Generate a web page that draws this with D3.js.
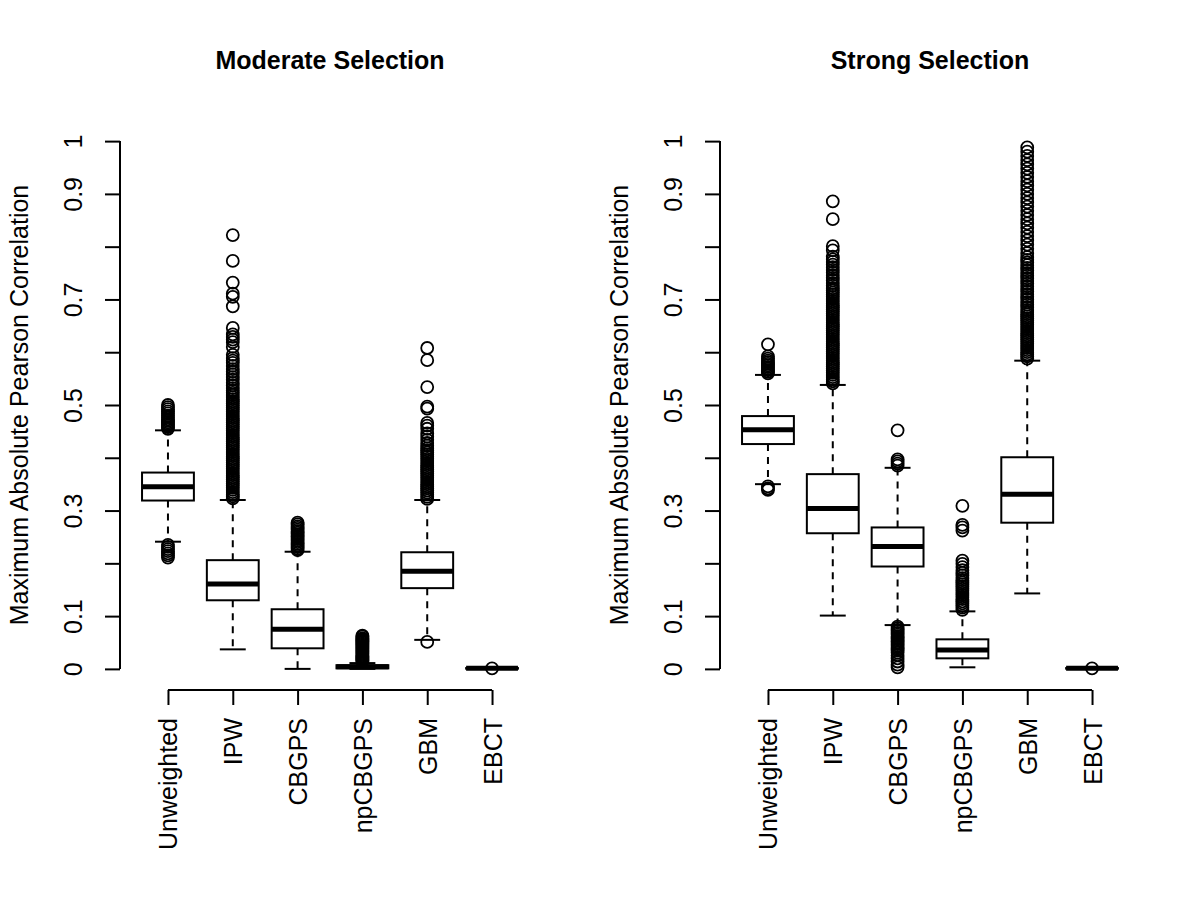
<!DOCTYPE html>
<html>
<head>
<meta charset="utf-8">
<script src="https://cdn.jsdelivr.net/npm/d3@7"></script>
<style>
  body { margin: 0; background: #fff; }
  text { font-family: "Liberation Sans", Arial, Helvetica, sans-serif; }
</style>
</head>
<body>
<div id="chart"></div>
<script>
const methods = ["Unweighted", "IPW", "CBGPS", "npCBGPS", "GBM", "EBCT"];
const yTicks = [0, 0.1, 0.2, 0.3, 0.4, 0.5, 0.6, 0.7, 0.8, 0.9, 1];
const yTickLabels = ["0", "0.1", "", "0.3", "", "0.5", "", "0.7", "", "0.9", "1"];

// moderate selection
const moderateLow    = [0.241, 0.037, 0.000, 0.000, 0.055, 0.000];
const moderateQ1     = [0.319, 0.130, 0.039, 0.001, 0.153, 0.0005];
const moderateMedian = [0.345, 0.161, 0.075, 0.004, 0.185, 0.001];
const moderateQ3     = [0.372, 0.206, 0.113, 0.007, 0.221, 0.0015];
const moderateHigh   = [0.452, 0.320, 0.222, 0.011, 0.320, 0.003];
const moderateOutliers = [
  [0.455, 0.458, 0.461, 0.464, 0.467, 0.470, 0.473, 0.477, 0.480, 0.484, 0.488, 0.492, 0.496, 0.500,
   0.235, 0.231, 0.227, 0.223, 0.219, 0.215, 0.211],
  [0.323, 0.327, 0.331, 0.335, 0.339, 0.343, 0.347, 0.351, 0.355, 0.359, 0.363, 0.367, 0.371, 0.375,
   0.379, 0.383, 0.387, 0.391, 0.395, 0.399, 0.403, 0.407, 0.411, 0.415, 0.419, 0.423, 0.427, 0.431,
   0.435, 0.439, 0.443, 0.447, 0.451, 0.455, 0.459, 0.463, 0.467, 0.471, 0.475, 0.479, 0.483, 0.487,
   0.491, 0.495, 0.499, 0.503, 0.507, 0.511, 0.515, 0.519, 0.523, 0.527, 0.532, 0.537, 0.542, 0.548,
   0.553, 0.558, 0.563, 0.568, 0.574, 0.580, 0.584, 0.589, 0.595, 0.610, 0.619, 0.624, 0.629, 0.634,
   0.646, 0.687, 0.705, 0.711, 0.732, 0.773, 0.822],
  [0.225, 0.228, 0.231, 0.234, 0.237, 0.240, 0.243, 0.246, 0.249, 0.252, 0.255, 0.258, 0.261, 0.264,
   0.267, 0.270, 0.274, 0.277],
  [0.014, 0.016, 0.018, 0.020, 0.022, 0.024, 0.026, 0.028, 0.030, 0.032, 0.034, 0.036, 0.038, 0.040,
   0.042, 0.044, 0.046, 0.048, 0.050, 0.052, 0.054, 0.056, 0.058, 0.061, 0.063],
  [0.322, 0.326, 0.330, 0.334, 0.338, 0.342, 0.346, 0.350, 0.354, 0.358, 0.362, 0.366, 0.370, 0.374,
   0.378, 0.382, 0.386, 0.390, 0.394, 0.398, 0.402, 0.406, 0.410, 0.414, 0.418, 0.423, 0.428, 0.434,
   0.440, 0.446, 0.455, 0.461, 0.466, 0.493, 0.497, 0.534, 0.585, 0.608, 0.051],
  [0.001]
];

// strong selection
const strongLow    = [0.350, 0.101, 0.083, 0.003, 0.143, 0.000];
const strongQ1     = [0.426, 0.257, 0.194, 0.020, 0.277, 0.0005];
const strongMedian = [0.453, 0.304, 0.232, 0.036, 0.331, 0.001];
const strongQ3     = [0.479, 0.369, 0.268, 0.056, 0.401, 0.0015];
const strongHigh   = [0.557, 0.538, 0.381, 0.109, 0.584, 0.003];
const strongOutliers = [
  [0.560, 0.563, 0.566, 0.569, 0.572, 0.575, 0.578, 0.581, 0.584, 0.588, 0.592, 0.615,
   0.346, 0.342, 0.339],
  [0.541, 0.545, 0.549, 0.553, 0.557, 0.561, 0.565, 0.569, 0.573, 0.577, 0.581, 0.585, 0.589, 0.593,
   0.597, 0.601, 0.605, 0.609, 0.613, 0.617, 0.621, 0.625, 0.629, 0.633, 0.637, 0.641, 0.645, 0.649,
   0.653, 0.657, 0.661, 0.665, 0.669, 0.673, 0.677, 0.681, 0.685, 0.689, 0.693, 0.697, 0.701, 0.705,
   0.709, 0.713, 0.717, 0.721, 0.726, 0.731, 0.736, 0.741, 0.746, 0.751, 0.756, 0.761, 0.766, 0.771,
   0.776, 0.781, 0.793, 0.801, 0.852, 0.886],
  [0.385, 0.389, 0.393, 0.397, 0.452,
   0.080, 0.077, 0.074, 0.071, 0.068, 0.065, 0.062, 0.059, 0.056, 0.053, 0.050, 0.047, 0.044, 0.041,
   0.038, 0.035, 0.031, 0.026, 0.020, 0.014, 0.008, 0.003],
  [0.112, 0.116, 0.120, 0.124, 0.128, 0.132, 0.136, 0.140, 0.144, 0.148, 0.152, 0.156, 0.160, 0.164,
   0.168, 0.172, 0.177, 0.182, 0.187, 0.193, 0.199, 0.205, 0.262, 0.268, 0.273, 0.309],
  [0.588, 0.592, 0.596, 0.600, 0.604, 0.608, 0.612, 0.616, 0.620, 0.624, 0.628, 0.632, 0.636, 0.640,
   0.644, 0.648, 0.652, 0.656, 0.660, 0.664, 0.668, 0.672, 0.676, 0.680, 0.685, 0.690, 0.695, 0.700,
   0.705, 0.710, 0.715, 0.720, 0.725, 0.730, 0.735, 0.740, 0.745, 0.750, 0.755, 0.760, 0.765, 0.770,
   0.775, 0.780, 0.788, 0.796, 0.804, 0.812, 0.820, 0.828, 0.836, 0.844, 0.852, 0.860, 0.868, 0.876,
   0.884, 0.892, 0.900, 0.908, 0.916, 0.924, 0.932, 0.940, 0.948, 0.956, 0.964, 0.972, 0.980, 0.988],
  [0.001]
];

const yLabel = "Maximum Absolute Pearson Correlation";

const svg = d3.select("#chart")
    .append("svg")
    .attr("width", 1200)
    .attr("height", 900)
    .style("background", "#fff");

const drawPanel = function(left, title, low, q1, median, q3, high, outliers) {
    const top = 120, bottom = 690, width = 420;

    const x = d3.scalePoint().domain(methods).range([left, left + width]).padding(0.74);
    const y = d3.scaleLinear().domain([-0.04, 1.04]).range([bottom, top]);
    const boxW = x.step() * 0.8;
    const capW = boxW / 2;

    const stats = methods.map((m, i) => ({
        m: m, low: low[i], q1: q1[i], median: median[i], q3: q3[i], high: high[i]
    }));
    const points = methods.flatMap((m, i) => outliers[i].map(v => ({m: m, v: v})));

    const g = svg.append("g");

    // title
    g.append("text")
        .attr("x", left + width / 2)
        .attr("y", 69)
        .attr("text-anchor", "middle")
        .attr("font-size", 25)
        .attr("font-weight", "bold")
        .text(title);

    // y label
    g.append("text")
        .attr("transform", `translate(${left - 92},${(top + bottom) / 2}) rotate(-90)`)
        .attr("text-anchor", "middle")
        .attr("font-size", 25)
        .text(yLabel);

    // y axis
    const ya = g.append("g")
        .attr("transform", `translate(${left},0)`)
        .call(d3.axisLeft(y).tickValues(yTicks).tickSize(15).tickFormat((d, i) => yTickLabels[i]));
    ya.select(".domain").remove();
    ya.append("line").attr("x1", 0).attr("x2", 0).attr("y1", y(0)).attr("y2", y(1))
        .attr("stroke", "#000").attr("stroke-width", 2);
    ya.selectAll(".tick line").attr("stroke-width", 2);
    ya.attr("font-size", 25).attr("font-family", null);
    ya.selectAll("text")
        .attr("x", 0).attr("dy", 0)
        .attr("fill", "#000")
        .attr("text-anchor", "middle")
        .attr("transform", "translate(-38,0) rotate(-90)");

    // x axis
    const xa = g.append("g")
        .attr("transform", `translate(0,${bottom})`)
        .call(d3.axisBottom(x).tickSize(15));
    xa.select(".domain").remove();
    xa.append("line").attr("x1", x(methods[0])).attr("x2", x(methods[methods.length - 1]))
        .attr("y1", 0).attr("y2", 0).attr("stroke", "#000").attr("stroke-width", 2);
    xa.selectAll(".tick line").attr("stroke-width", 2);
    xa.attr("font-size", 25).attr("font-family", null);
    xa.selectAll("text")
        .attr("y", 0).attr("dy", 0)
        .attr("fill", "#000")
        .attr("text-anchor", "end")
        .attr("transform", "translate(9,28) rotate(-90)");

    const boxes = g.selectAll("g.box")
        .data(stats)
        .join("g")
        .attr("class", "box");

    // whiskers
    boxes.append("line")
        .attr("x1", d => x(d.m)).attr("x2", d => x(d.m))
        .attr("y1", d => y(d.q3)).attr("y2", d => y(d.high))
        .attr("stroke", "#000").attr("stroke-width", 2).attr("stroke-dasharray", "7,6");
    boxes.append("line")
        .attr("x1", d => x(d.m)).attr("x2", d => x(d.m))
        .attr("y1", d => y(d.q1)).attr("y2", d => y(d.low))
        .attr("stroke", "#000").attr("stroke-width", 2).attr("stroke-dasharray", "7,6");

    // staples
    boxes.append("line")
        .attr("x1", d => x(d.m) - capW / 2).attr("x2", d => x(d.m) + capW / 2)
        .attr("y1", d => y(d.high)).attr("y2", d => y(d.high))
        .attr("stroke", "#000").attr("stroke-width", 2);
    boxes.append("line")
        .attr("x1", d => x(d.m) - capW / 2).attr("x2", d => x(d.m) + capW / 2)
        .attr("y1", d => y(d.low)).attr("y2", d => y(d.low))
        .attr("stroke", "#000").attr("stroke-width", 2);

    // box
    boxes.append("rect")
        .attr("x", d => x(d.m) - boxW / 2)
        .attr("y", d => y(d.q3))
        .attr("width", boxW)
        .attr("height", d => y(d.q1) - y(d.q3))
        .attr("fill", "#fff")
        .attr("stroke", "#000")
        .attr("stroke-width", 2);

    // median
    boxes.append("line")
        .attr("x1", d => x(d.m) - boxW / 2).attr("x2", d => x(d.m) + boxW / 2)
        .attr("y1", d => y(d.median)).attr("y2", d => y(d.median))
        .attr("stroke", "#000").attr("stroke-width", 5);

    // outliers
    g.selectAll("circle")
        .data(points)
        .join("circle")
        .attr("cx", d => x(d.m))
        .attr("cy", d => y(d.v))
        .attr("r", 6)
        .attr("fill", "none")
        .attr("stroke", "#000")
        .attr("stroke-width", 1.8);
}

drawPanel(120, "Moderate Selection", moderateLow, moderateQ1, moderateMedian, moderateQ3, moderateHigh, moderateOutliers);
drawPanel(720, "Strong Selection", strongLow, strongQ1, strongMedian, strongQ3, strongHigh, strongOutliers);
</script>
</body>
</html>
